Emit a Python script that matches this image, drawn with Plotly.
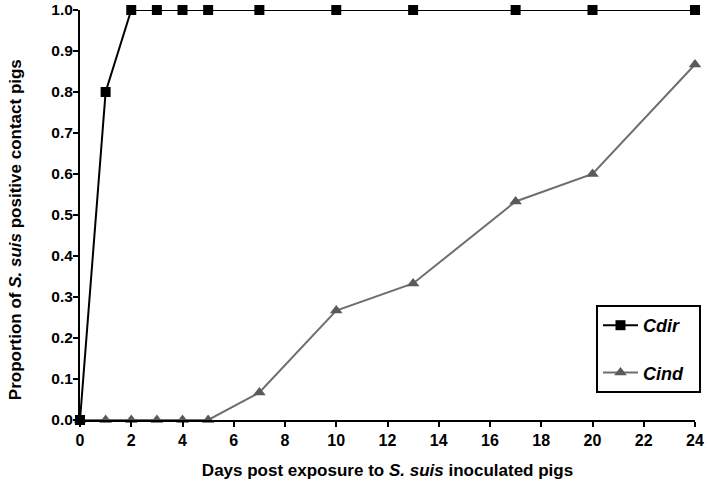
import plotly.graph_objects as go

days_cdir = [0, 1, 2, 3, 4, 5, 7, 10, 13, 17, 20, 24]
cdir = [0.0, 0.8, 1.0, 1.0, 1.0, 1.0, 1.0, 1.0, 1.0, 1.0, 1.0, 1.0]
days_cind = [0, 1, 2, 3, 4, 5, 7, 10, 13, 17, 20, 24]
cind = [0.0, 0.0, 0.0, 0.0, 0.0, 0.0, 0.067, 0.267, 0.333, 0.533, 0.6, 0.867]

FONT = "Liberation Sans, Arial, sans-serif"

fig = go.Figure()
fig.add_trace(go.Scatter(
    x=days_cind, y=cind, mode="lines+markers", name="<b><i>Cind</i></b>&nbsp;&nbsp;",
    line=dict(color="#6e6e6e", width=2),
    marker=dict(symbol="triangle-up", size=11, color="#5a5a5a"),
    cliponaxis=False, legendgroup="b", legendrank=2,
))
fig.add_trace(go.Scatter(
    x=days_cdir, y=cdir, mode="lines+markers", name="<b><i>Cdir</i></b>&nbsp;&nbsp;",
    line=dict(color="black", width=2),
    marker=dict(symbol="square", size=10, color="black"),
    cliponaxis=False, legendgroup="a", legendrank=1,
))

fig.update_layout(
    width=710, height=485,
    margin=dict(l=80, r=15, t=10, b=65, autoexpand=False),
    plot_bgcolor="white", paper_bgcolor="white",
    font=dict(family=FONT, color="black", size=13),
    legend=dict(
        x=0.839, y=0.2805, xanchor="left", yanchor="top",
        bordercolor="black", borderwidth=2, bgcolor="white",
        font=dict(family=FONT, size=18, color="black"),
        traceorder="grouped", tracegroupgap=21, itemwidth=35,
    ),
    xaxis=dict(
        range=[0, 24], tickmode="array", tickvals=list(range(0, 25, 2)),
        showline=True, linecolor="black", linewidth=2,
        ticks="outside", ticklen=5, tickwidth=2, tickcolor="black",
        showgrid=False, zeroline=False, automargin=False,
        tickfont=dict(family=FONT, size=16, weight="bold"),
        title=dict(text="Days post exposure to <i>S. suis</i> inoculated pigs",
                   font=dict(family=FONT, size=17, weight="bold"), standoff=16),
    ),
    yaxis=dict(
        range=[0, 1], tickmode="array", tickvals=[i / 10 for i in range(11)],
        tickformat=".1f",
        showline=True, linecolor="black", linewidth=2,
        ticks="outside", ticklen=5, tickwidth=2, tickcolor="black",
        showgrid=False, zeroline=False, automargin=False,
        ticklabelstandoff=-3,
        tickfont=dict(family=FONT, size=15.5, weight="bold"),
    ),
    annotations=[dict(
        text="<b>Proportion of <i>S. suis</i> positive contact pigs</b>",
        textangle=-90, xref="paper", yref="paper", x=0, y=0.463,
        xanchor="center", yanchor="middle", xshift=-65, showarrow=False,
        font=dict(family=FONT, size=17, color="black"),
    )],
)

fig.write_html("out.html", config={"displayModeBar": False},
               post_script="document.body.style.margin='0';")
